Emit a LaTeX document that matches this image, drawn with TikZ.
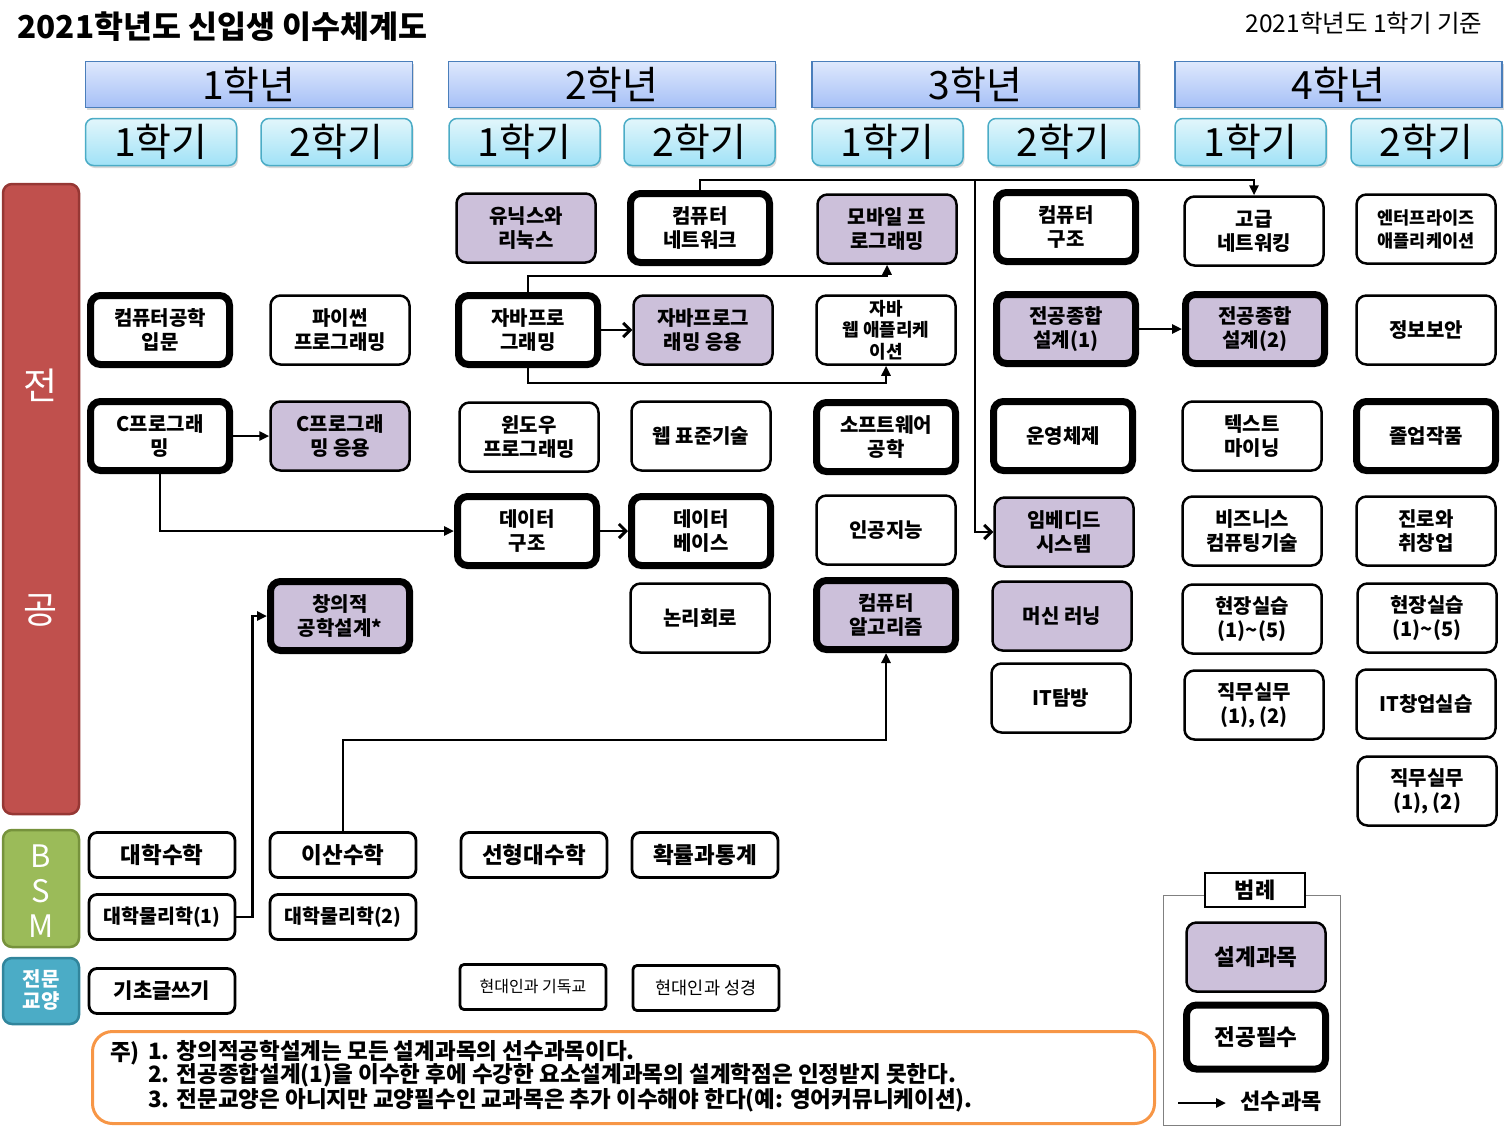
\documentclass[tikz,border=0pt]{standalone}
\usepackage{fontspec}
\setmainfont{Noto Sans CJK KR}
\usetikzlibrary{arrows.meta,calc,shadows}

\definecolor{designfill}{RGB}{204,192,218}
\definecolor{yeartop}{RGB}{222,232,252}
\definecolor{yearbot}{RGB}{166,192,247}
\definecolor{yearline}{RGB}{74,126,187}
\definecolor{semtop}{RGB}{226,246,251}
\definecolor{sembot}{RGB}{160,226,247}
\definecolor{semline}{RGB}{75,172,198}
\definecolor{majorred}{RGB}{192,80,77}
\definecolor{majorline}{RGB}{150,55,52}
\definecolor{bsmgreen}{RGB}{155,187,89}
\definecolor{bsmline}{RGB}{118,146,60}
\definecolor{libblue}{RGB}{75,172,198}
\definecolor{libline}{RGB}{49,133,156}
\definecolor{noteorange}{RGB}{247,150,70}

\tikzset{
  course/.style={draw, line width=2.5pt, rounded corners=10pt, fill=white,
    minimum width=139pt, minimum height=69pt, inner sep=1pt, align=center,
    font=\fontsize{20}{24}\selectfont\bfseries},
  majorreq/.style={course, line width=7pt},
  designc/.style={fill=designfill},
  bsmbox/.style={course, minimum width=146pt, minimum height=45pt, rounded corners=8pt,
    line width=2.8pt, font=\fontsize{22.5}{24}\selectfont\bfseries},
  libbox/.style={bsmbox, rounded corners=4pt, font=\fontsize{17.5}{18}\selectfont},
  yearbox/.style={draw=yearline, line width=1.5pt, top color=yeartop, bottom color=yearbot,
    minimum width=327pt, minimum height=46pt, inner sep=0pt,
    font=\fontsize{39}{39}\selectfont,
    drop shadow={shadow xshift=1.5pt, shadow yshift=-2.5pt, opacity=0.3}},
  semibox/.style={yearbox, draw=semline, top color=semtop, bottom color=sembot,
    minimum width=151pt, minimum height=47pt, rounded corners=8pt},
  sidebar/.style={line width=2.5pt, rounded corners=9pt, minimum width=76pt},
  bartext/.style={text=white, inner sep=0pt},
  link/.style={line width=2.5pt, -{Triangle[length=10pt, width=9pt]}},
  linkv/.style={line width=2.5pt, -{Straight Barb[length=7pt, width=14pt, line width=3pt]}}
}

\begin{document}
\begin{tikzpicture}[x=1pt, y=-1pt]
\useasboundingbox (0,0) rectangle (1511,1128);

% title and date
\node[anchor=west, font=\fontsize{31.5}{31.5}\selectfont\bfseries] (title) at (14,27) {2021학년도 신입생 이수체계도};
\node[anchor=east, font=\fontsize{24.5}{24.5}\selectfont] (basis) at (1486,23) {2021학년도 1학기 기준};

% years and semesters
\foreach \yx [count=\yi] in {249,612,975.5,1338.5}
  \node[yearbox] (year\yi) at (\yx,84.5) {\yi{}학년};
\foreach \sx/\semno [count=\si] in {161/1,336.5/2,524.5/1,699.5/2,887.5/1,1063.5/2,1250.5/1,1426.5/2}
  \node[semibox] (sem\si) at (\sx,142) {\semno{}학기};

% side bars
\node[sidebar, fill=majorred, draw=majorline, minimum height=630pt] (majorbar) at (41,499) {};
\node[bartext, font=\fontsize{37}{37}\selectfont] (majorA) at (41,385) {전};
\node[bartext, font=\fontsize{37}{37}\selectfont] (majorB) at (41,610) {공};
\node[sidebar, fill=bsmgreen, draw=bsmline, minimum height=117pt] (bsmbar) at (41,888.5) {};
\node[bartext, font=\fontsize{31}{31}\selectfont] (bsmB) at (41,856) {B};
\node[bartext, font=\fontsize{31}{31}\selectfont] (bsmS) at (41,891) {S};
\node[bartext, font=\fontsize{31}{31}\selectfont] (bsmM) at (41,926) {M};
\node[sidebar, fill=libblue, draw=libline, minimum height=66pt] (libbar) at (41,991) {};
\node[bartext, align=center, font=\fontsize{20}{22}\selectfont\bfseries] (libtext) at (41,990) {전문\\교양};

% row 1
\node[course, designc] (unix) at (526,228) {유닉스와\\리눅스};
\node[majorreq] (cnet) at (700,228) {컴퓨터\\네트워크};
\node[course, designc] (mobile) at (887,229) {모바일 프\\로그래밍};
\node[majorreq] (carch) at (1066,227) {컴퓨터\\구조};
\node[course] (advnet) at (1254,231) {고급\\네트워킹};
\node[course, font=\fontsize{17.5}{23}\selectfont\bfseries] (enterprise) at (1426,229) {엔터프라이즈\\애플리케이션};

% row 2
\node[majorreq] (intro) at (160,330) {컴퓨터공학\\입문};
\node[course] (python) at (340,330) {파이썬\\프로그래밍};
\node[majorreq] (javap) at (528,330) {자바프로\\그래밍};
\node[course, designc] (javaapp) at (703,330) {자바프로그\\래밍 응용};
\node[course, font=\fontsize{18}{21.5}\selectfont\bfseries] (javaweb) at (886,330) {자바\\웹 애플리케\\이션};
\node[majorreq, designc] (sj1) at (1066,329) {전공종합\\설계(1)};
\node[majorreq, designc] (sj2) at (1255,329) {전공종합\\설계(2)};
\node[course] (security) at (1426,330) {정보보안};

% row 3
\node[majorreq] (cprog) at (160,436) {C프로그래\\밍};
\node[course, designc] (capp) at (340,436) {C프로그래\\밍 응용};
\node[course] (winprog) at (529,437) {윈도우\\프로그래밍};
\node[course] (webstd) at (701,436) {웹 표준기술};
\node[majorreq] (sweng) at (886,437) {소프트웨어\\공학};
\node[majorreq] (os) at (1063,436) {운영체제};
\node[course] (textmine) at (1252,436) {텍스트\\마이닝};
\node[majorreq] (capstone) at (1426,436) {졸업작품};

% row 4
\node[majorreq] (dstruct) at (527,531) {데이터\\구조};
\node[majorreq] (dbase) at (701,531) {데이터\\베이스};
\node[course] (ai) at (886,530) {인공지능};
\node[course, designc] (embed) at (1064,532) {임베디드\\시스템};
\node[course] (bizcomp) at (1252,531) {비즈니스\\컴퓨팅기술};
\node[course] (career) at (1426,531) {진로와\\취창업};

% row 5
\node[majorreq, designc] (creative) at (340,616) {창의적\\공학설계*};
\node[course] (logic) at (700,618) {논리회로};
\node[majorreq, designc] (algo) at (886,615) {컴퓨터\\알고리즘};
\node[course, designc] (ml) at (1062,616) {머신 러닝};
\node[course] (intern1) at (1252,619) {현장실습\\(1)\textasciitilde(5)};
\node[course] (intern2) at (1427,618) {현장실습\\(1)\textasciitilde(5)};

% rows 6 and 7
\node[course] (ittour) at (1061,698) {IT탐방};
\node[course] (job1) at (1254,705) {직무실무\\(1), (2)};
\node[course] (itstart) at (1426,704) {IT창업실습};
\node[course] (job2) at (1427,791) {직무실무\\(1), (2)};

% BSM and liberal arts
\node[bsmbox] (calc) at (162,855) {대학수학};
\node[bsmbox] (dmath) at (343,855) {이산수학};
\node[bsmbox] (linalg) at (534,855) {선형대수학};
\node[bsmbox] (prob) at (705,855) {확률과통계};
\node[bsmbox, font=\fontsize{19.5}{22}\selectfont\bfseries] (phys1) at (162,917) {대학물리학(1)};
\node[bsmbox, font=\fontsize{19.5}{22}\selectfont\bfseries] (phys2) at (343,917) {대학물리학(2)};
\node[bsmbox, font=\fontsize{21}{22}\selectfont\bfseries] (writing) at (162,991) {기초글쓰기};
\node[libbox, font=\fontsize{16}{18}\selectfont] (christ) at (533,987) {현대인과 기독교};
\node[libbox] (bible) at (706,988) {현대인과 성경};

% prerequisites
\draw[link] (cprog.east) -- (capp.west);
\draw[link] (cprog.south) |- (dstruct.west);
\draw[linkv] (dstruct.east) -- (dbase.west);
\draw[linkv] (javap.east) -- (javaapp.west);
\draw[link] (javap.north) -- ++(0,-16) -| (mobile.south);
\draw[link] (javap.south) -- ++(0,15) -| (javaweb.south);
\coordinate (netbus) at (975,180);
\draw[link] (cnet.north) |- (netbus) -| (advnet.north);
\draw[linkv] (netbus) |- (embed.west);
\draw[link] (sj1.east) -- (sj2.west);
\draw[link] (phys1.east) -- ++(16,0) |- (creative.west);
\draw[link] (dmath.north) -- ++(0,-91) -| (algo.south);

% notes
\node[draw=noteorange, line width=3pt, rounded corners=20pt, minimum width=1062pt, minimum height=92pt] (notebox) at (623.5,1077.5) {};
\node[anchor=base west, font=\fontsize{22.5}{23.5}\selectfont\bfseries, inner sep=0pt] (notehead) at (110,1060) {주)};
\node[anchor=north west, align=left, font=\fontsize{22.5}{23.5}\selectfont\bfseries, inner sep=0pt] (notebody) at (148,1040)
  {1. 창의적공학설계는 모든 설계과목의 선수과목이다.\\
   2. 전공종합설계(1)을 이수한 후에 수강한 요소설계과목의 설계학점은 인정받지 못한다.\\
   3. 전문교양은 아니지만 교양필수인 교과목은 추가 이수해야 한다(예: 영어커뮤니케이션).};

% legend
\node[draw=black!50, line width=1pt, minimum width=177pt, minimum height=230pt] (legframe) at (1251.5,1010) {};
\node[draw, fill=white, line width=1.5pt, minimum width=100pt, minimum height=34pt, font=\fontsize{22}{22}\selectfont\bfseries] (legtitle) at (1255,890) {범례};
\node[course, designc, font=\fontsize{22.5}{24}\selectfont\bfseries] (legdesign) at (1256,957) {설계과목};
\node[majorreq, minimum height=64pt, font=\fontsize{22.5}{24}\selectfont\bfseries] (legmajor) at (1256,1037) {전공필수};
\coordinate (legtail) at (1178,1103);
\coordinate (leghead) at (1226,1103);
\draw[link] (legtail) -- (leghead);
\node[anchor=west, font=\fontsize{22}{24}\selectfont\bfseries] (legarrow) at (1237,1101) {선수과목};
\end{tikzpicture}
\end{document}
